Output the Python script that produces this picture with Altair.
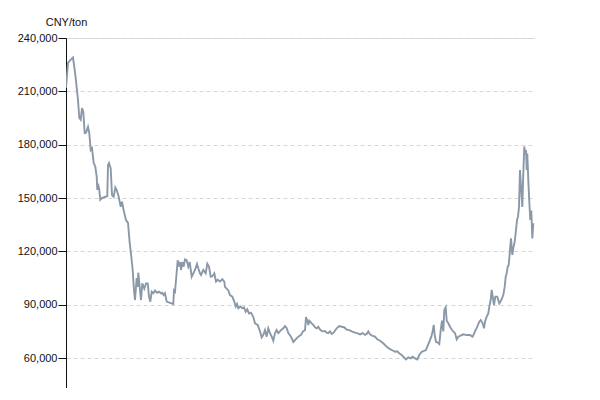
import altair as alt
import pandas as pd

# time index (trading-period position) and price in CNY/ton
t = [
    0, 2, 4.3, 7, 8.7, 10, 12, 13.3, 14.7, 16,
    17.3, 18.7, 20, 22, 23.3, 24.7, 26, 27.7, 29.3, 30.7,
    31.3, 32, 33.3, 34.3, 36, 39.3, 41.3, 42, 43, 44.7,
    46, 47.7, 49.3, 50.7, 52.7, 54.7, 56, 57.7, 60, 62,
    63.7, 65.3, 66.7, 68, 69, 70.7, 71.7, 72.3, 73.7, 75,
    76.3, 78.3, 80, 81.7, 83, 84.3, 85.7, 87.3, 89, 91,
    93, 95, 96.3, 97.7, 99, 100.7, 104, 107.3, 108, 109,
    110.3, 111.7, 113, 114, 115, 116.3, 117.7, 119, 120.7, 122.3,
    123.7, 125.7, 127.3, 129, 131, 132.3, 134, 135, 137.3, 139.7,
    141.3, 143, 144.7, 146.3, 148.3, 150, 151.7, 154, 156.3, 158.3,
    159, 162.3, 164, 166.3, 168.3, 169.7, 171, 172.3, 174.3, 176.3,
    178, 179.7, 181.3, 183, 185, 187.3, 189, 191.7, 194, 195.7,
    197.3, 199, 200.7, 202.3, 204, 205.7, 207.3, 209, 210.7, 212.3,
    215, 217.3, 219, 220.7, 222.3, 225, 227.3, 229.7, 232.3, 235,
    237, 239, 240, 241.3, 242.3, 243.3, 245.7, 247.3, 249, 250.7,
    252.3, 254, 255.7, 257.3, 259, 260.7, 262.3, 264, 265.7, 267.3,
    270.7, 273.3, 275.7, 278, 280.7, 283.3, 285.7, 289, 291.3, 294,
    296.7, 299, 300.7, 302.3, 304, 306.7, 309, 311.3, 314, 316.7,
    319, 321.3, 324, 326.7, 329, 331.3, 333.3, 335.7, 338, 340,
    342.3, 344.7, 346.7, 349, 351.3, 353.3, 355.7, 358, 360, 361.3,
    363.3, 365.3, 366.7, 367.7, 368.7, 370, 372, 373.3, 374.7, 376,
    377.3, 378.3, 379.7, 380.7, 382.3, 384, 385.7, 387.3, 389, 390.7,
    392.3, 394, 397.3, 400.7, 404, 406.7, 409, 411.3, 413.3, 414.7,
    416.7, 418, 419, 420.7, 422.3, 423.3, 424.7, 425.7, 426.7, 428,
    429.3, 431.3, 433.3, 435.3, 437.3, 438.7, 439.7, 440.7, 441.7, 442.7,
    444, 445, 446.3, 447.3, 448.7, 450, 451, 452, 453, 454,
    455, 456.3, 457.3, 458.3, 459.3, 460, 460.7, 461.3, 462.3, 463.3,
    464.3, 465.3, 466.3, 467.3,
]

price = [
    212000, 226000, 227600, 229000, 222000, 216000, 205000, 195000, 194000, 200600,
    198500, 186500, 186700, 190000, 186500, 177000, 178000, 169700, 167600, 162000,
    154500, 158000, 154500, 149000, 150000, 150700, 151000, 168600, 169700, 166700,
    151700, 150700, 156000, 154500, 150700, 145000, 148000, 143000, 137600, 136000,
    124700, 117000, 109500, 98000, 92600, 105000, 100000, 108000, 100000, 92600,
    102000, 99000, 102000, 102000, 94500, 91700, 97300, 96400, 97900, 96700,
    97300, 96400, 96700, 95400, 96400, 91700, 91000, 90400, 98000, 97300,
    105700, 115000, 111400, 114000, 109500, 114000, 111400, 115500, 115000, 111400,
    114000, 105700, 107600, 109500, 112900, 110500, 107600, 106700, 109500, 107600,
    113000, 111400, 105700, 106000, 107600, 103000, 104000, 103000, 104300, 103000,
    100000, 98000, 95400, 94500, 91700, 89000, 90400, 88000, 89000, 88000,
    88500, 86000, 87400, 85000, 85500, 83000, 79500, 78600, 75000, 71600,
    73000, 75700, 72000, 76700, 74000, 72000, 69700, 74000, 75700, 74000,
    75700, 76700, 78000, 76700, 74000, 72000, 69000, 70500, 72000, 73000,
    75000, 75700, 83000, 81000, 78600, 81000, 79500, 78600, 77300, 76700,
    77600, 76000, 75300, 75000, 75200, 74300, 74000, 75000, 73500, 74000,
    76700, 78000, 77600, 77300, 76000, 75700, 75000, 74300, 74000, 73300,
    74000, 73000, 73500, 75000, 73300, 72400, 72000, 70500, 69700, 68600,
    67300, 66000, 65000, 64200, 63500, 63800, 62600, 61700, 60400, 59200,
    60400, 59800, 60700, 59800, 59200, 61700, 63500, 64000, 64500, 66400,
    69000, 72000, 75000, 78600, 73000, 69000, 68600, 67900, 75700, 81000,
    75000, 87000, 88500, 81000, 79500, 77600, 76000, 75000, 74000, 70500,
    72000, 72400, 73300, 72900, 72900, 72000, 75000, 77600, 80400, 81300,
    79500, 76700, 80400, 83300, 85100, 88900, 92600, 98300, 94500, 89800,
    94500, 94500, 90700, 92600, 95400, 100000, 105700, 107600, 111400, 112300,
    120800, 127300, 118000, 121700, 125400, 132000, 137600, 139500, 145000, 165700,
    156400, 145000, 163900, 178900, 175000, 177000, 165700, 175000, 160000, 148000,
    137600, 143000, 127300, 135800,
]

y_ticks = [60000, 90000, 120000, 150000, 180000, 210000, 240000]

assert len(t) == len(price)
df = pd.DataFrame({"t": t, "price": price})

chart = (
    alt.Chart(df)
    .mark_line(color="#8a98a8", strokeWidth=1.9, clip=True)
    .encode(
        x=alt.X("t:Q", scale=alt.Scale(domain=[0, 469], nice=False, zero=False), axis=None),
        y=alt.Y(
            "price:Q",
            scale=alt.Scale(domain=[43125, 240000], nice=False, zero=False),
            axis=alt.Axis(
                values=y_ticks,
                format=",d",
                title="CNY/ton",
                titleAngle=0,
                titleX=0,
                titleY=-13,
                titleAlign="center",
                titleBaseline="alphabetic",
                titleFontSize=11,
                titleFontWeight="normal",
                titleColor="#111111",
                titleFont="Liberation Sans",
                labelFont="Liberation Sans",
                labelFontSize=11,
                labelColor="#111111",
                labelPadding=1,
                tickSize=8,
                tickColor="#111111",
                domainColor="#111111",
                grid=True,
                gridColor="#d6d6d6",
                gridDash=[4, 3],
                gridWidth=1,
            ),
        ),
    )
    .properties(
        width=469,
        height=350,
        autosize=alt.AutoSizeParams(type="none"),
        padding={"left": 58, "top": 30, "right": 0, "bottom": 0},
    )
    .configure_view(stroke=None)
    .configure(background="white")
)

chart.save("out.html", embed_options={"renderer": "svg", "actions": False})
